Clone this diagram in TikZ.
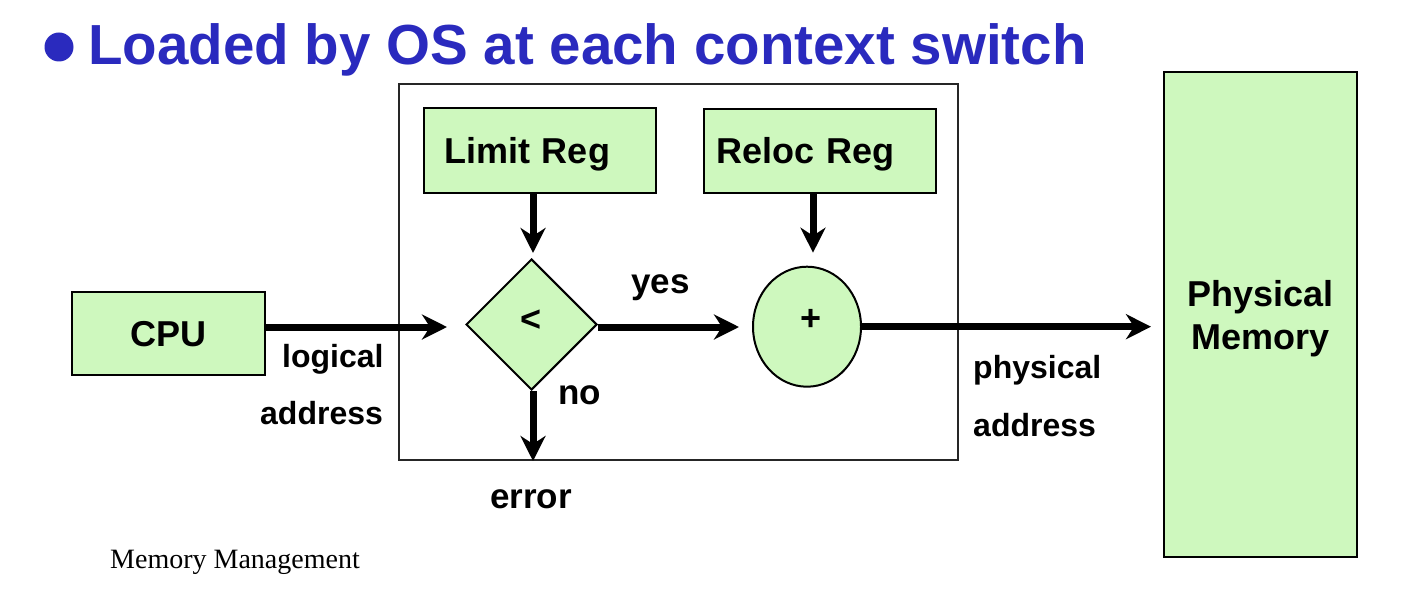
\documentclass[tikz,border=0pt]{standalone}
\usepackage{fontspec}
\setmainfont{Liberation Sans}
\newfontfamily\timesfont{Liberation Serif}
\usetikzlibrary{shapes.geometric,arrows.meta}
\definecolor{titleblue}{RGB}{42,42,190}
\definecolor{boxgreen}{RGB}{206,248,190}
\begin{document}
\begin{tikzpicture}[x=1pt,y=-1pt,
  gbox/.style={draw=black,line width=2pt,fill=boxgreen,inner sep=0pt,font=\fontsize{36}{43}\selectfont\bfseries},
  lbl/.style={anchor=base west,inner sep=0pt,font=\fontsize{32}{38}\selectfont\bfseries},
  lblb/.style={anchor=base west,inner sep=0pt,font=\fontsize{35}{42}\selectfont\bfseries},
  arr/.style={line width=7pt,-{Stealth[length=25pt,width=25pt,inset=8pt]}},
]
\useasboundingbox (0,0) rectangle (1404,604);
\fill[white] (0,0) rectangle (1404,604);

% title
\node[circle,fill=titleblue,minimum size=29pt,inner sep=0pt] (bul) at (59,47) {};
\node[anchor=base west,inner sep=0pt,text=titleblue,font=\fontsize{56.5}{60}\selectfont\bfseries] (title) at (88,65) {Loaded by OS at each context switch};

% outer OS box
\node[draw=black!85,line width=2pt,minimum width=559pt,minimum height=376pt,inner sep=0pt] (os) at (678.5,272) {};

% boxes
\node[gbox,minimum width=232pt,minimum height=84pt,text width=192pt,inner xsep=20pt,align=left,text height=25.8pt,text depth=0pt] (lim) at (540,150.5) {Limit Reg};
\node[gbox,minimum width=232pt,minimum height=84pt,text width=208pt,inner xsep=12pt,align=left,text height=25.8pt,text depth=0pt] (rel) at (820,151) {Reloc Reg};
\node[gbox,minimum width=193pt,minimum height=83pt,text height=25.8pt,text depth=0pt] (cpu) at (168.5,333.5) {CPU};
\node[gbox,minimum width=193pt,minimum height=485pt,align=center,text depth=0pt] (mem) at (1260.5,314.5) {Physical\\Memory};
\node[gbox,diamond,aspect=1,minimum width=131pt,minimum height=131pt,text height=13.4pt,text depth=0pt] (dia) at (531.5,324.5) {<};
\node[gbox,ellipse,minimum width=108pt,minimum height=120pt,text height=8.4pt,text depth=0pt] (cir) at (807,326.7) {\hspace*{8pt}+};

% arrows
\draw[arr] ([yshift=6.5pt]cpu.east) -- ([xshift=-18pt,yshift=-2.5pt]dia.west);
\draw[arr] ([yshift=-2.5pt]dia.east) -- ([xshift=-13pt,yshift=-0.3pt]cir.west);
\draw[arr] (cir.east) -- ([xshift=-12pt]cir.east -| mem.west);
\draw[arr] ([xshift=-7pt]lim.south) -- ([xshift=-7pt,yshift=5pt]lim.south |- dia.north);
\draw[arr] ([xshift=-7pt]rel.south) -- ([xshift=-7pt,yshift=13pt]rel.south |- cir.north);
\draw[arr] ([xshift=1.5pt]dia.south) -- ([xshift=1.5pt]dia.south |- os.south);

% labels
\node[lblb] (yes) at (631,293) {yes};
\node[lblb] (no) at (558,404) {no};
\node[lblb] (err) at (490,508) {error};
\node[lbl] (la1) at (282,367) {logical};
\node[lbl] (la2) at (260,424) {address};
\node[lbl] (pa1) at (973,378) {physical};
\node[lbl] (pa2) at (973,436) {address};
\node[anchor=base west,inner sep=0pt,font=\timesfont\fontsize{28}{32}\selectfont] (mm) at (110,568) {Memory Management};
\end{tikzpicture}
\end{document}
